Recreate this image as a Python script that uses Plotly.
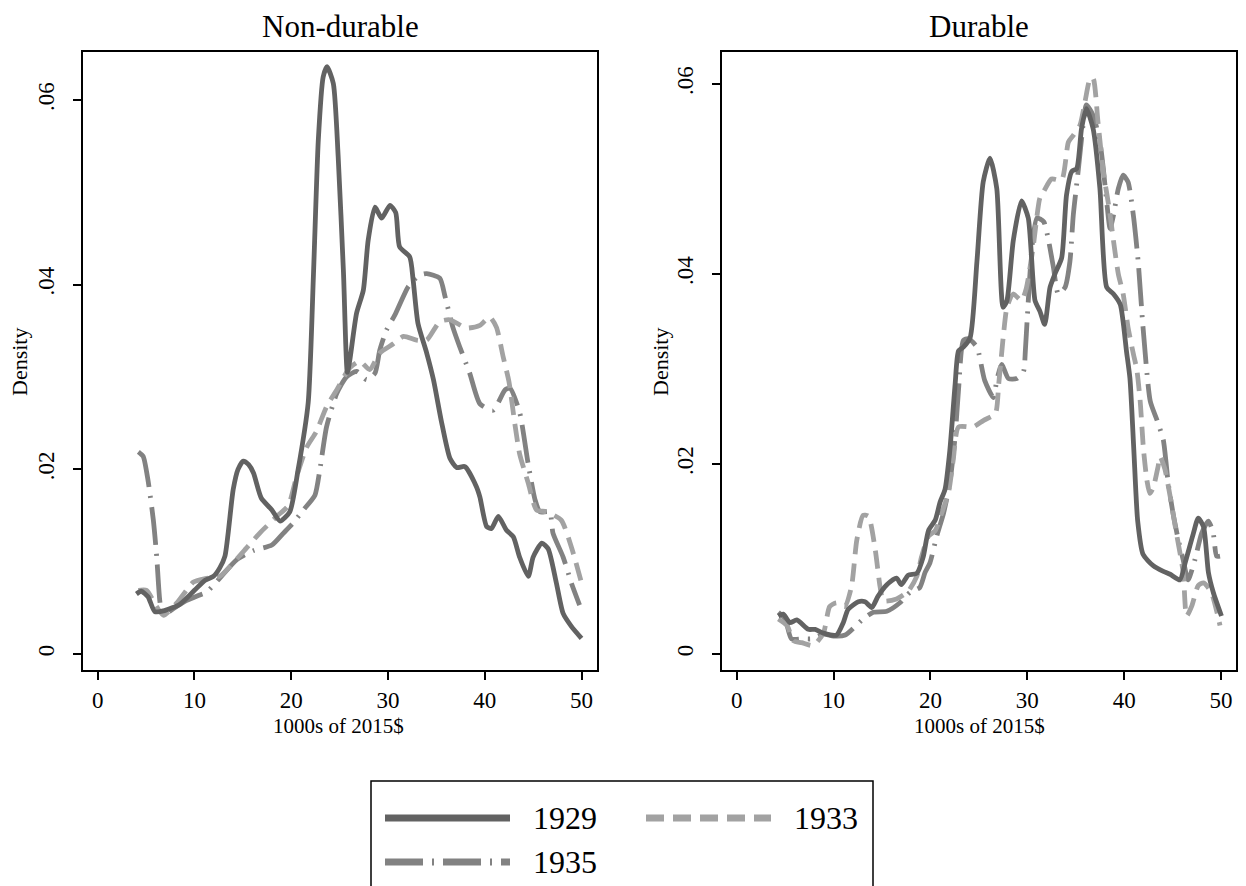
import plotly.graph_objects as go

# ---------------- data: kernel density of spending, 1000s of 2015$ ----------------
years = ["1929", "1933", "1935"]

# Non-durable
nd_1929_x = [4.0, 4.5, 5.2, 5.9, 6.9, 8.5, 10.0, 11.1, 11.95, 12.6, 13.15, 14.0, 14.5, 15.05, 15.6, 16.1,
             16.9, 18.0, 18.85, 19.85, 20.7, 21.75, 22.3, 22.8, 23.3, 23.7, 24.35, 24.85, 25.4, 25.8, 26.05,
             26.75, 27.45, 27.95, 28.65, 29.35, 30.2, 30.8, 31.2, 32.25, 32.6, 33.1, 34.0, 34.7, 35.5, 36.4,
             37.1, 37.95, 39.15, 39.5, 40.2, 40.7, 41.4, 42.25, 42.95, 43.6, 44.5, 45.0, 45.9, 46.55, 47.4,
             48.1, 48.95, 50.0]
nd_1929_y = [.0065, .0068, .0062, .0046, .0047, .0054, .0069, .0080, .0084, .0093, .0106, .0178, .0200, .0209,
             .0205, .0196, .0169, .0156, .0144, .0154, .0199, .0272, .0412, .0557, .0625, .0636, .0618, .0539,
             .0413, .0305, .0318, .0369, .0394, .0448, .0484, .0472, .0486, .0478, .0441, .0430, .0405, .0358,
             .0326, .0297, .0253, .0212, .0202, .0203, .0181, .0170, .0138, .0136, .0149, .0134, .0127, .0105,
             .0084, .0105, .0120, .0114, .0077, .0044, .0030, .0017]

nd_1933_x = [4.2, 5.05, 6.1, 6.8, 8.15, 9.9, 11.25, 12.6, 15.05, 16.75, 18.5, 19.7, 20.55, 21.6, 22.6, 23.65,
             24.7, 26.05, 27.1, 28.1, 29.15, 30.55, 31.6, 32.95, 34.0, 35.35, 36.4, 38.1, 39.5, 40.5, 41.2,
             41.9, 42.5, 43.1, 43.6, 44.5, 45.35, 46.4, 47.9, 48.95, 50.0]
nd_1933_y = [.0069, .0069, .0051, .0042, .0055, .0078, .0082, .0084, .0111, .0131, .0149, .0161, .0192, .0224,
             .0241, .0268, .0286, .0310, .0317, .0308, .0326, .0336, .0344, .0340, .0340, .0360, .0362, .0353,
             .0356, .0365, .0354, .0322, .0295, .0250, .0217, .0185, .0156, .0154, .0145, .0116, .0077]

nd_1935_x = [4.2, 4.7, 5.2, 5.75, 6.1, 6.45, 6.8, 7.8, 9.2, 10.55, 11.25, 12.6, 14.35, 16.1, 18.0, 19.2, 20.2,
             21.25, 22.45, 22.95, 23.65, 24.7, 25.7, 26.75, 27.8, 28.65, 29.15, 29.85, 30.7, 32.1, 33.2, 34.0,
             35.35, 35.9, 36.7, 37.4, 38.45, 39.5, 40.85, 42.1, 42.6, 43.6, 44.5, 45.2, 45.7, 46.7, 47.05,
             48.1, 48.95, 49.8]
nd_1935_y = [.0219, .0214, .0188, .0145, .0105, .0055, .0042, .0049, .0058, .0064, .0067, .0082, .0102, .0112,
             .0118, .0131, .0142, .0156, .0172, .0199, .0246, .0282, .0300, .0306, .0297, .0304, .0329, .0351,
             .0367, .0398, .0410, .0412, .0407, .0387, .0354, .0333, .0304, .0271, .0264, .0286, .0288, .0262,
             .0205, .0167, .0154, .0154, .0131, .0105, .0077, .0053]

# Durable
d_1929_x = [4.3, 4.8, 5.5, 6.2, 7.4, 8.1, 8.95, 10.3, 11.0, 11.5, 12.55, 13.25, 13.95, 14.6, 15.5, 16.5, 17.0,
            17.7, 18.6, 19.25, 19.8, 20.5, 21.0, 21.5, 22.0, 22.55, 22.9, 23.4, 24.1, 24.8, 25.45, 26.15,
            26.85, 27.5, 27.9, 28.55, 29.4, 30.1, 30.8, 31.3, 31.8, 32.35, 32.85, 33.55, 34.05, 34.6, 35.1,
            35.6, 36.1, 36.8, 37.5, 38.2, 38.9, 39.6, 40.25, 40.6, 41.0, 41.4, 41.95, 43.0, 44.05, 44.75,
            45.75, 46.3, 47.15, 47.65, 48.2, 48.7, 49.2, 50.05]
d_1929_y = [.0040, .0042, .0033, .0036, .0026, .0026, .0022, .0020, .0033, .0047, .0055, .0055, .0049, .0061,
            .0073, .0080, .0073, .0083, .0085, .0102, .0130, .0141, .0160, .0173, .0214, .0284, .0319, .0323,
            .0333, .0413, .0497, .0522, .0490, .0365, .0372, .0435, .0477, .0459, .0372, .0361, .0347, .0386,
            .0400, .0417, .0483, .0508, .0511, .0553, .0574, .0553, .0490, .0386, .0379, .0368, .0318, .0290,
            .0215, .0140, .0105, .0093, .0087, .0084, .0078, .0096, .0127, .0143, .0134, .0086, .0065, .0040]

d_1933_x = [4.3, 5.2, 5.85, 6.7, 7.9, 8.95, 9.6, 10.3, 11.15, 11.85, 12.4, 13.05, 13.6, 14.3, 14.8, 15.15, 16.5,
            17.7, 18.6, 19.1, 19.8, 20.5, 21.15, 21.85, 22.35, 22.9, 24.4, 25.5, 26.7, 27.05, 27.55, 27.9,
            28.55, 29.4, 29.9, 30.6, 31.3, 31.7, 32.5, 33.55, 34.25, 34.75, 35.45, 35.95, 36.5, 36.8, 37.3,
            37.85, 38.5, 38.9, 39.4, 39.9, 40.4, 40.95, 41.3, 41.65, 42.0, 42.35, 42.65, 43.0, 43.5, 43.7,
            44.2, 44.75, 45.4, 46.1, 46.45, 47.0, 47.65, 48.2, 49.0, 49.9]
d_1933_y = [.0037, .0030, .0014, .0012, .0009, .0022, .0050, .0054, .0050, .0071, .0120, .0146, .0145, .0110,
            .0071, .0056, .0058, .0066, .0082, .0103, .0124, .0130, .0148, .0169, .0204, .0239, .0239, .0246,
            .0253, .0284, .0337, .0365, .0379, .0372, .0385, .0428, .0480, .0487, .0500, .0499, .0539, .0546,
            .0557, .0581, .0606, .0606, .0560, .0508, .0466, .0435, .0400, .0379, .0344, .0316, .0300, .0267,
            .0215, .0183, .0169, .0175, .0197, .0208, .0195, .0166, .0127, .0086, .0040, .0051, .0072, .0075,
            .0065, .0030]

d_1935_x = [4.3, 5.0, 5.65, 6.9, 7.75, 8.95, 10.0, 11.2, 13.05, 14.1, 15.5, 16.85, 17.9, 18.9, 19.45, 19.95,
            20.65, 21.35, 22.0, 22.55, 22.9, 23.4, 23.9, 24.8, 25.6, 26.5, 26.85, 27.35, 28.05, 28.9, 29.6,
            29.8, 30.0, 30.5, 31.0, 31.7, 32.2, 32.7, 33.2, 33.9, 34.4, 34.75, 35.25, 35.8, 36.1, 36.8, 37.5,
            37.85, 38.2, 38.55, 38.9, 39.4, 39.9, 40.4, 40.95, 41.45, 41.95, 42.7, 43.4, 44.05, 44.55, 45.05,
            45.6, 46.1, 46.6, 47.3, 48.0, 48.7, 49.2, 49.55, 49.9]
d_1935_y = [.0044, .0037, .0016, .0016, .0016, .0021, .0019, .0020, .0037, .0044, .0045, .0054, .0065, .0070,
            .0086, .0096, .0124, .0148, .0180, .0229, .0278, .0330, .0332, .0323, .0288, .0270, .0288, .0305,
            .0290, .0290, .0297, .0319, .0354, .0430, .0459, .0455, .0435, .0407, .0379, .0386, .0413, .0462,
            .0508, .0560, .0578, .0567, .0539, .0511, .0476, .0448, .0462, .0490, .0504, .0497, .0462, .0413,
            .0344, .0266, .0246, .0225, .0180, .0148, .0120, .0099, .0078, .0099, .0127, .0140, .0127, .0103,
            .0103]

x_ticks = [0, 10, 20, 30, 40, 50]
y_ticks = [0, 0.02, 0.04, 0.06]
y_ticktext = ["0", ".02", ".04", ".06"]

# ---------------- styling ----------------
FONT = "Liberation Serif"
W, H = 1246, 886
styles = {
    "1929": dict(color="#626262", dash="solid"),
    "1933": dict(color="#a2a2a2", dash="18px,9px"),
    "1935": dict(color="#828282", dash="38px,9px,2px,9px"),
}
LW = 4.8

panels = [
    ("x", "y", {"1929": (nd_1929_x, nd_1929_y), "1933": (nd_1933_x, nd_1933_y), "1935": (nd_1935_x, nd_1935_y)}),
    ("x2", "y2", {"1929": (d_1929_x, d_1929_y), "1933": (d_1933_x, d_1933_y), "1935": (d_1935_x, d_1935_y)}),
]

fig = go.Figure()
for xa, ya, series in panels:
    for yr in ["1935", "1933", "1929"]:
        xs, ys = series[yr]
        st = styles[yr]
        fig.add_trace(go.Scatter(
            x=xs, y=ys, mode="lines", name=yr, xaxis=xa, yaxis=ya, showlegend=False,
            line=dict(color=st["color"], width=LW, dash=st["dash"], shape="spline", smoothing=0.6),
            hoverinfo="skip",
        ))


def px_x(p):
    return p / W


def px_y(p):
    return (H - p) / H


axis_common = dict(
    showline=True, mirror=True, linecolor="black", linewidth=1.5,
    showgrid=False, zeroline=False, ticks="outside", ticklen=8, tickwidth=1.5,
    tickcolor="black", tickfont=dict(family=FONT, size=23, color="black"),
)

fig.update_layout(
    width=W, height=H,
    margin=dict(l=0, r=0, t=0, b=0, autoexpand=False),
    paper_bgcolor="white", plot_bgcolor="white",
    font=dict(family=FONT, color="black"),
    xaxis=dict(domain=[px_x(83), px_x(597)], range=[-1.52, 51.6], tickvals=x_ticks,
               ticklabelstandoff=1, anchor="y", **axis_common),
    yaxis=dict(domain=[px_y(670), px_y(52)], range=[-0.00173, 0.0652], tickvals=y_ticks,
               ticktext=y_ticktext, tickangle=-90, ticklabelstandoff=10, anchor="x", **axis_common),
    xaxis2=dict(domain=[px_x(722), px_x(1236)], range=[-1.52, 51.55], tickvals=x_ticks,
                ticklabelstandoff=1, anchor="y2", **axis_common),
    yaxis2=dict(domain=[px_y(670), px_y(52)], range=[-0.00168, 0.06337], tickvals=y_ticks,
                ticktext=y_ticktext, tickangle=-90, ticklabelstandoff=10, anchor="x2", **axis_common),
)

# panel titles and axis titles
ann = []
for cx, title in [(340, "Non-durable"), (979, "Durable")]:
    ann.append(dict(text=title, x=px_x(cx), y=px_y(26), xref="paper", yref="paper",
                    xanchor="center", yanchor="middle", showarrow=False,
                    font=dict(family=FONT, size=31, color="black")))
for cx in [338, 979]:
    ann.append(dict(text="1000s of 2015$", x=px_x(cx), y=px_y(726), xref="paper", yref="paper",
                    xanchor="center", yanchor="middle", showarrow=False,
                    font=dict(family=FONT, size=21, color="black")))
for cx in [19, 660]:
    ann.append(dict(text="Density", x=px_x(cx), y=px_y(362), xref="paper", yref="paper",
                    xanchor="center", yanchor="middle", showarrow=False, textangle=-90,
                    font=dict(family=FONT, size=22, color="black")))

# legend box drawn below the panels
shapes = [dict(type="rect", xref="paper", yref="paper",
               x0=px_x(371), x1=px_x(873), y0=px_y(930), y1=px_y(781),
               line=dict(color="black", width=1.5), fillcolor="white", layer="below")]
legend_items = [("1929", 385, 818), ("1933", 646, 818), ("1935", 385, 862)]
for yr, lx, ly in legend_items:
    st = styles[yr]
    shapes.append(dict(type="line", xref="paper", yref="paper",
                       x0=px_x(lx), x1=px_x(lx + 125), y0=px_y(ly), y1=px_y(ly),
                       line=dict(color=st["color"], width=7, dash=st["dash"])))
    ann.append(dict(text=yr, x=px_x(lx + 146), y=px_y(ly), xref="paper", yref="paper",
                    xanchor="left", yanchor="middle", showarrow=False,
                    font=dict(family=FONT, size=32, color="black")))

fig.update_layout(annotations=ann, shapes=shapes)
fig.write_html("out.html")
